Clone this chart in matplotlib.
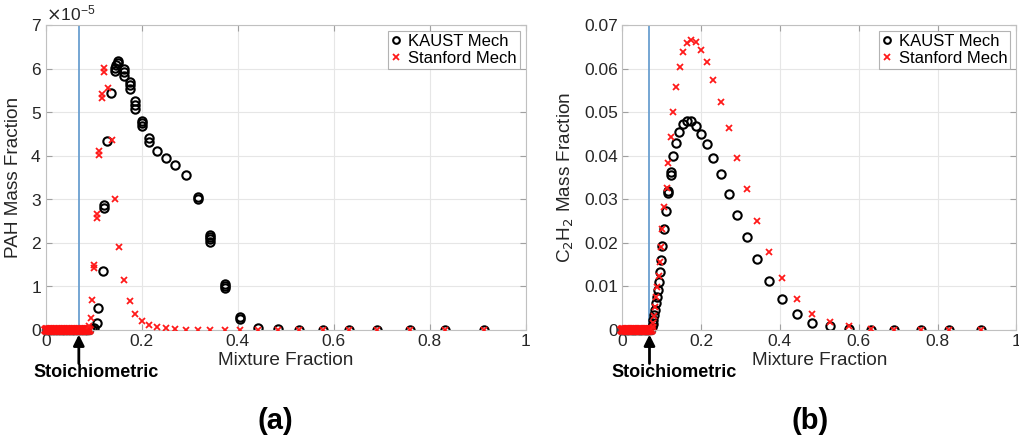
import numpy as np
import matplotlib
matplotlib.use('Agg')
import matplotlib.pyplot as plt

plt.rcParams['font.family'] = ['Liberation Sans', 'DejaVu Sans']

# ---- data ----
z_stoich = 0.069

# lean side, everything sits on zero
z_lean_a = [0.000, 0.003, 0.006, 0.009, 0.012, 0.015, 0.018, 0.021, 0.024, 0.027,
            0.030, 0.033, 0.036, 0.039, 0.042, 0.045, 0.048, 0.051, 0.054, 0.057,
            0.060, 0.063, 0.066, 0.069, 0.072, 0.075, 0.078, 0.081, 0.084, 0.087, 0.090]
z_lean_b = [0.000, 0.003, 0.006, 0.009, 0.012, 0.015, 0.018, 0.021, 0.024, 0.027,
            0.030, 0.033, 0.036, 0.039, 0.042, 0.045, 0.048, 0.051, 0.054, 0.057,
            0.060, 0.063, 0.066, 0.069, 0.072]

# (a) PAH, values in units of 1e-5
z_pah_kaust = [0.092, 0.096, 0.101, 0.106, 0.109, 0.120, 0.122, 0.122, 0.128, 0.136,
               0.145, 0.145, 0.147, 0.150, 0.150, 0.163, 0.163, 0.163, 0.175, 0.175,
               0.175, 0.186, 0.186, 0.186, 0.200, 0.200, 0.200, 0.215, 0.215, 0.231,
               0.250, 0.269, 0.292, 0.317, 0.317, 0.342, 0.342, 0.342, 0.342, 0.373,
               0.373, 0.373, 0.405, 0.405, 0.443, 0.483, 0.528, 0.577, 0.631, 0.691,
               0.758, 0.831, 0.913]
pah_kaust = [0.01, 0.02, 0.04, 0.15, 0.50, 1.36, 2.80, 2.86, 4.34, 5.43,
             5.95, 6.02, 6.08, 6.12, 6.18, 5.82, 5.92, 6.00, 5.52, 5.62,
             5.70, 5.08, 5.16, 5.25, 4.68, 4.74, 4.80, 4.32, 4.40, 4.11,
             3.94, 3.79, 3.56, 3.00, 3.06, 2.03, 2.08, 2.13, 2.18, 0.96,
             1.01, 1.06, 0.25, 0.30, 0.05, 0.02, 0.01, 0.005, 0.0, 0.0,
             0.0, 0.0, 0.0]

z_pah_stan = [0.091, 0.094, 0.097, 0.101, 0.101, 0.106, 0.106, 0.111, 0.111, 0.117,
              0.117, 0.122, 0.122, 0.129, 0.1375, 0.144, 0.153, 0.164, 0.175, 0.187,
              0.200, 0.215, 0.231, 0.250, 0.269, 0.292, 0.317, 0.342, 0.373, 0.405,
              0.443, 0.483, 0.528, 0.577, 0.631, 0.691, 0.758, 0.831, 0.913]
pah_stan = [0.10, 0.28, 0.69, 1.43, 1.50, 2.58, 2.66, 4.02, 4.10, 5.33,
            5.41, 5.93, 6.01, 5.55, 4.35, 3.00, 1.90, 1.15, 0.67, 0.37,
            0.21, 0.11, 0.07, 0.04, 0.02, 0.01, 0.005, 0.0, 0.0, 0.0,
            0.0, 0.0, 0.0, 0.0, 0.0, 0.0, 0.0, 0.0, 0.0]

# (b) C2H2
z_c2h2_kaust = [0.073, 0.075, 0.077, 0.079, 0.0805, 0.0822, 0.085, 0.0875, 0.090, 0.0925,
                0.095, 0.098, 0.1015, 0.106, 0.111, 0.117, 0.117, 0.123, 0.123, 0.129,
                0.136, 0.145, 0.154, 0.163, 0.175, 0.186, 0.200, 0.216, 0.231, 0.250,
                0.270, 0.292, 0.316, 0.343, 0.373, 0.406, 0.443, 0.482, 0.527, 0.576,
                0.630, 0.690, 0.757, 0.830, 0.910]
c2h2_kaust = [0.0002, 0.0006, 0.0013, 0.0023, 0.0034, 0.0047, 0.0061, 0.0075, 0.0092, 0.0111,
              0.0134, 0.0161, 0.0193, 0.0231, 0.0273, 0.0314, 0.0320, 0.0356, 0.0362, 0.0399,
              0.0430, 0.0454, 0.0472, 0.0480, 0.0479, 0.0469, 0.0450, 0.0427, 0.0394, 0.0357,
              0.0313, 0.0264, 0.0213, 0.0163, 0.0112, 0.0070, 0.0037, 0.0017, 0.0008, 0.0003,
              0.0001, 0.0, 0.0, 0.0, 0.0]

z_c2h2_stan = [0.077, 0.079, 0.0805, 0.083, 0.0855, 0.089, 0.0925, 0.0957, 0.099, 0.1015,
               0.106, 0.1127, 0.117, 0.123, 0.129, 0.137, 0.146, 0.154, 0.163, 0.175,
               0.186, 0.200, 0.216, 0.231, 0.250, 0.270, 0.292, 0.316, 0.343, 0.373,
               0.406, 0.443, 0.482, 0.527, 0.576, 0.630, 0.690, 0.757, 0.830, 0.910]
c2h2_stan = [0.0007, 0.0017, 0.0032, 0.0053, 0.0075, 0.0098, 0.0124, 0.0157, 0.0191, 0.0231,
             0.0282, 0.0326, 0.0383, 0.0444, 0.0501, 0.0557, 0.0604, 0.0639, 0.0659, 0.0666,
             0.0660, 0.0643, 0.0614, 0.0574, 0.0523, 0.0463, 0.0394, 0.0323, 0.0249, 0.0178,
             0.0119, 0.0070, 0.0037, 0.0019, 0.0009, 0.0002, 0.0, 0.0, 0.0, 0.0]

txtcol = '#262626'
gridcol = '#e6e6e6'
spinecol = '#c0c0c0'


def style_axes(ax, ymax, yticks):
    ax.set_xlim(0, 1)
    ax.set_ylim(0, ymax)
    ax.set_xticks([0, 0.2, 0.4, 0.6, 0.8, 1])
    ax.set_xticklabels(['0', '0.2', '0.4', '0.6', '0.8', '1'])
    ax.set_yticks(yticks)
    ax.grid(True, color=gridcol, lw=0.8)
    ax.set_axisbelow(True)
    for s in ax.spines.values():
        s.set_color(spinecol)
    ax.tick_params(direction='in', length=4, color='#a0a0a0', labelsize=12.5,
                   labelcolor=txtcol, top=True, right=True, pad=3)
    ax.set_xlabel('Mixture Fraction', fontsize=13.7, color=txtcol, labelpad=2)


def draw(ax, zlean, zk, yk, zs, ys, scale):
    ax.axvline(z_stoich, color='#6a9fd0', lw=1.3, zorder=1)
    zeros = [0.0] * len(zlean)
    ax.plot(zlean, zeros, 'o', ms=6, mfc='none', mec='#555555', mew=1.0, zorder=2,
            clip_on=False)
    ax.plot(zk, np.array(yk) * scale, 'o', ms=6, mfc='none', mec='k', mew=1.5,
            zorder=2, label='KAUST Mech')
    # dense lean-side points merge into a solid red band
    ax.plot(zlean, zeros, 'x', ms=5.5, mec='#ff1010', mew=2.6, alpha=0.9, zorder=3,
            clip_on=False)
    ax.plot(zs, np.array(ys) * scale, 'x', ms=5, mec='#ff1a1a', mew=1.3, zorder=3,
            label='Stanford Mech')
    leg = ax.legend(loc='upper right', fontsize=12, frameon=True, fancybox=False,
                    borderaxespad=0.35, handlelength=0.6, handletextpad=0.4,
                    borderpad=0.2, labelspacing=0.1, markerscale=0.8)
    leg.get_frame().set_edgecolor('#a0a0a0')
    leg.get_frame().set_linewidth(0.8)
    for t in leg.get_texts():
        t.set_color('k')
    # arrow for stoichiometric mixture fraction
    ax.annotate('', xy=(z_stoich, -0.015), xytext=(z_stoich, -0.11),
                xycoords=('data', 'axes fraction'), textcoords=('data', 'axes fraction'),
                arrowprops=dict(arrowstyle='-|>', lw=2, color='k', mutation_scale=16,
                                shrinkA=0, shrinkB=0), annotation_clip=False)


fig = plt.figure(figsize=(10.2, 4.44), dpi=100)
ax1 = fig.add_axes([0.0448, 0.2568, 0.4706, 0.687])
ax2 = fig.add_axes([0.6101, 0.2568, 0.3863, 0.687])

draw(ax1, z_lean_a, z_pah_kaust, pah_kaust, z_pah_stan, pah_stan, 1e-5)
style_axes(ax1, 7e-5, np.arange(0, 8) * 1e-5)
ax1.ticklabel_format(axis='y', style='sci', scilimits=(0, 0), useMathText=True)
ax1.yaxis.get_offset_text().set_fontsize(12.5)
ax1.yaxis.get_offset_text().set_color(txtcol)
ax1.set_ylabel('PAH Mass Fraction', fontsize=13.7, color=txtcol, labelpad=6)
ax1.text(0.105, -0.14, 'Stoichiometric', transform=ax1.get_xaxis_transform(),
         ha='center', va='center', fontsize=13, fontweight='bold')

draw(ax2, z_lean_b, z_c2h2_kaust, c2h2_kaust, z_c2h2_stan, c2h2_stan, 1.0)
style_axes(ax2, 0.07, [0, 0.01, 0.02, 0.03, 0.04, 0.05, 0.06, 0.07])
ax2.set_yticklabels(['0', '0.01', '0.02', '0.03', '0.04', '0.05', '0.06', '0.07'])
ax2.set_ylabel('C$_2$H$_2$ Mass Fraction', fontsize=13.7, color=txtcol, labelpad=6)
ax2.text(0.131, -0.14, 'Stoichiometric', transform=ax2.get_xaxis_transform(),
         ha='center', va='center', fontsize=13, fontweight='bold')

fig.text(275 / 1020, 1 - 421 / 444, '(a)', ha='center', va='center',
         fontsize=21, fontweight='bold')
fig.text(810 / 1020, 1 - 421 / 444, '(b)', ha='center', va='center',
         fontsize=21, fontweight='bold')

fig.savefig('out.png', dpi=100)
